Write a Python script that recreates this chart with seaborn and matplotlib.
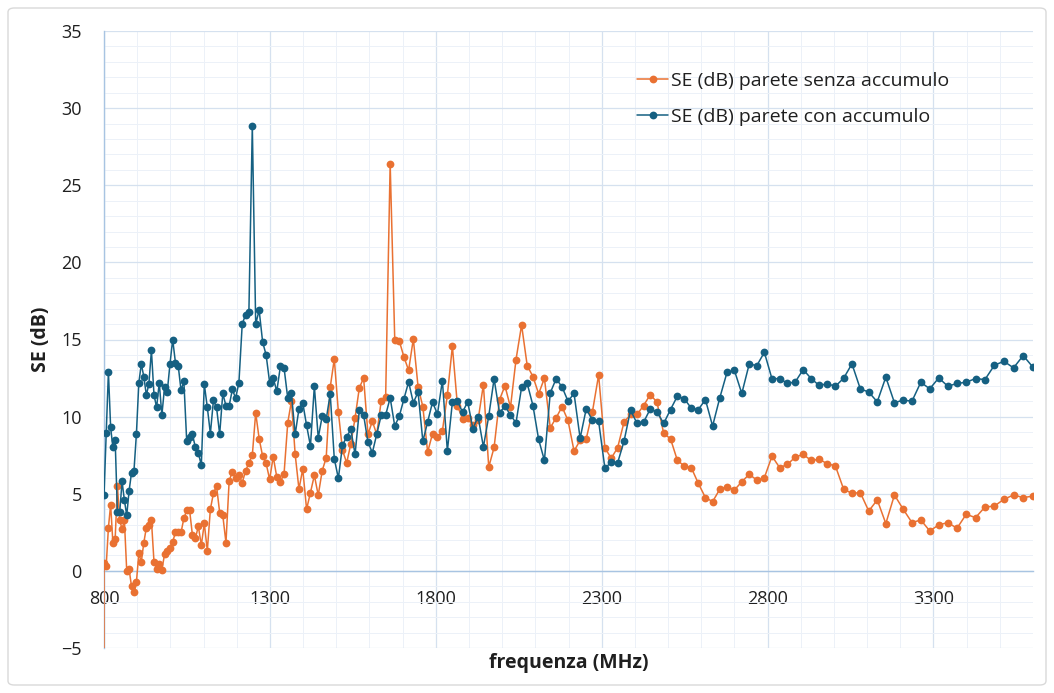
import numpy as np
import pandas as pd
import matplotlib
matplotlib.use("Agg")
import matplotlib.pyplot as plt
import seaborn as sns
from matplotlib.ticker import MultipleLocator, FixedLocator
from matplotlib.patches import FancyBboxPatch

# ---------------- data ----------------
# measurement frequencies (MHz), logarithmic sweep 800 -> 3600 MHz
freq = [800.0, 806.6, 813.3, 820.0, 826.7, 833.6, 840.4, 847.4, 854.4, 861.4, 868.5, 875.7, 882.9, 890.2,
        897.6, 905.0, 912.4, 920.0, 927.6, 935.2, 942.9, 950.7, 958.6, 966.5, 974.4, 982.5, 990.6, 998.8,
        1007.0, 1015.3, 1023.7, 1032.2, 1040.7, 1049.3, 1057.9, 1066.6, 1075.5, 1084.3, 1093.3, 1102.3,
        1111.4, 1120.6, 1129.8, 1139.2, 1148.6, 1158.0, 1167.6, 1177.2, 1186.9, 1196.7, 1206.6, 1216.6,
        1226.6, 1236.7, 1247.0, 1257.2, 1267.6, 1278.1, 1288.6, 1299.3, 1310.0, 1320.8, 1331.7, 1342.7,
        1353.8, 1364.9, 1376.2, 1387.6, 1399.0, 1410.6, 1422.2, 1434.0, 1445.7, 1457.7, 1469.7, 1481.8,
        1494.1, 1506.4, 1518.8, 1531.4, 1544.0, 1556.7, 1569.6, 1582.5, 1595.6, 1608.8, 1622.0, 1635.4,
        1648.9, 1662.5, 1676.3, 1690.1, 1704.0, 1718.1, 1732.3, 1746.6, 1761.0, 1775.5, 1790.2, 1805.0,
        1819.9, 1834.9, 1850.0, 1865.3, 1880.7, 1896.2, 1911.8, 1927.6, 1943.5, 1959.6, 1975.7, 1992.1,
        2008.5, 2025.1, 2041.8, 2058.6, 2075.6, 2092.8, 2110.0, 2127.4, 2145.0, 2162.7, 2180.5, 2198.5,
        2216.7, 2235.0, 2253.4, 2272.0, 2290.8, 2309.7, 2328.7, 2348.0, 2367.3, 2386.9, 2406.6, 2426.4,
        2446.5, 2466.6, 2487.0, 2507.5, 2528.2, 2549.1, 2570.1, 2591.3, 2612.7, 2634.3, 2656.0, 2677.9,
        2700.0, 2722.3, 2744.8, 2767.4, 2790.3, 2813.3, 2836.5, 2859.9, 2883.5, 2907.3, 2931.3, 2955.5,
        2979.9, 3004.5, 3029.3, 3054.3, 3079.5, 3104.9, 3130.6, 3156.4, 3182.4, 3208.7, 3235.2, 3261.9,
        3288.8, 3315.9, 3343.3, 3370.9, 3398.7, 3426.8, 3455.1, 3483.6, 3512.3, 3541.3, 3570.5, 3600.0]

senza = [0.54, 0.32, 2.8, 4.3, 1.83, 2.05, 5.5, 3.3, 2.7, 3.3, 0.0, 0.1, -1.0, -1.4, -0.75, 1.14, 0.58, 1.83, 2.8, 3.0,
         3.3, 0.58, 0.15, 0.43, 0.06, 1.08, 1.3, 1.5, 1.88, 2.5, 2.52, 2.5, 3.4, 3.93, 3.95, 2.3, 2.1, 2.9, 1.66,
         3.08, 1.3, 4.0, 5.03, 5.5, 3.78, 3.6, 1.83, 5.83, 6.43, 6.04, 6.24, 5.72, 6.47, 7.0, 7.49, 10.25, 8.57, 7.44, 6.97,
         5.93, 7.4, 6.08, 5.76, 6.3, 9.6, 11.0, 7.55, 5.3,
         6.6, 4.0, 5.07, 6.2, 4.9, 6.5, 7.33, 11.9, 13.74, 10.3, 7.83, 7.0, 8.24, 9.92, 11.87, 12.5, 8.85, 9.7, 8.85, 11.0,
         11.3, 26.4, 15.0, 14.9,
         13.87, 13.0, 15.04, 11.93, 10.64, 7.7, 8.9, 8.65, 9.06, 11.4, 14.56, 10.7, 9.86, 9.9, 9.43, 9.8, 12.08, 6.73, 8.0, 11.1,
         12.0, 10.6, 13.7, 15.94, 13.3, 12.6, 11.48, 12.49, 9.28, 9.92, 10.64, 9.75, 7.77, 8.46, 8.56, 10.3, 12.7,
         7.98, 7.3, 7.98, 9.64, 10.14, 10.14, 10.72, 11.43, 10.94, 8.91, 8.56, 7.16, 6.8, 6.69, 5.67,
         4.75, 4.49, 5.29, 5.46, 5.24, 5.78, 6.26, 5.89, 6.04, 7.44, 6.69, 6.9, 7.38,
         7.55, 7.16, 7.23, 6.95, 6.8, 5.29, 5.03, 5.07, 3.88, 4.6, 3.07, 4.92,
         4.0, 3.13, 3.3, 2.59, 2.98, 3.13, 2.76, 3.67, 3.45, 4.14, 4.2, 4.64, 4.92, 4.75, 4.85]

con = [4.9, 8.95, 12.9, 9.3, 8.0, 8.5, 3.8, 3.8, 5.8, 4.6, 3.6, 5.2, 6.36, 6.45, 8.85, 12.2, 13.4, 12.6, 11.4, 12.1,
       14.3, 11.4, 10.6, 12.2, 10.1, 11.9, 11.6, 13.4, 15.0, 13.5, 13.3, 11.7, 12.3, 8.4, 8.7, 8.85, 8.0, 7.66, 6.84,
       12.1, 10.6, 8.9, 11.05, 10.6, 8.85, 11.5, 10.7, 10.7, 11.76, 11.2, 12.2, 16.0, 16.6, 16.76, 28.85, 16.0, 16.9, 14.84, 14.0,
       12.2, 12.5, 11.65, 13.27, 13.16, 11.2, 11.5, 8.85, 10.5,
       10.9, 9.43, 8.1, 11.97, 8.63, 10.03, 9.82, 11.48, 7.27, 6.0, 8.13, 8.7, 9.17, 7.55, 10.42, 10.1, 8.35, 7.66, 8.85, 10.08,
       10.1, 11.22, 9.39, 10.03,
       11.15, 12.25, 10.9, 11.59, 8.4, 9.67, 10.94, 10.16, 12.34, 7.77, 10.94, 11.0, 10.29, 10.96, 9.21, 10.0, 8.03, 10.03, 12.45, 10.25,
       10.68, 10.1, 9.6, 11.9, 12.15, 10.72, 8.52, 7.16, 11.54, 12.45, 11.93, 11.0, 11.5, 8.6, 10.5, 9.77, 9.7,
       6.65, 7.05, 7.0, 8.4, 10.42, 9.56, 9.64, 10.5, 10.3, 9.56, 10.46, 11.33, 11.15, 10.55, 10.46,
       11.1, 9.39, 11.22, 12.88, 13.0, 11.5, 13.42, 13.3, 14.17, 12.45, 12.47, 12.15, 12.25,
       13.05, 12.47, 12.02, 12.13, 11.97, 12.49, 13.42, 11.8, 11.59, 10.96, 12.56, 10.9,
       11.07, 11.0, 12.23, 11.8, 12.51, 11.97, 12.15, 12.23, 12.47, 12.4, 13.33, 13.59, 13.16, 13.96, 13.2]

# first reading of the "senza" series lies below the axis minimum
senza_first_freq = 800.0
senza_first_value = -6.0

label_senza = "SE (dB) parete senza accumulo"
label_con = "SE (dB) parete con accumulo"
x_ticks = [800, 1300, 1800, 2300, 2800, 3300]
y_ticks = [-5, 0, 5, 10, 15, 20, 25, 30, 35]

assert len(freq) == len(senza) == len(con), (len(freq), len(senza), len(con))

df = pd.concat([
    pd.DataFrame({"freq": [senza_first_freq] + freq, "SE": [senza_first_value] + senza, "serie": label_senza}),
    pd.DataFrame({"freq": freq, "SE": con, "serie": label_con}),
], ignore_index=True)

# ---------------- style ----------------
sns.set_theme(style="white")
plt.rcParams["font.family"] = ["Open Sans", "DejaVu Sans"]

orange = "#E97132"
blue = "#156082"
grid_major = "#D5E1EF"
grid_minor = "#ECF1F8"
axis_col = "#A8C4E2"
text_col = "#1F1F1F"

fig = plt.figure(figsize=(10.54, 6.93), dpi=100)
W, H = 1054, 693
ax = fig.add_axes([104 / W, 1 - 648 / H, (1033 - 104) / W, (648 - 31) / H])

sns.lineplot(data=df, x="freq", y="SE", hue="serie", hue_order=[label_senza, label_con],
             palette=[orange, blue], marker="o", markersize=5.6, markeredgewidth=0,
             linewidth=1.1, sort=False, estimator=None, ax=ax)

ax.set_xlim(800, 3600)
ax.set_ylim(-5, 35)
ax.xaxis.set_major_locator(FixedLocator(x_ticks))
ax.xaxis.set_minor_locator(MultipleLocator(100))
ax.yaxis.set_major_locator(FixedLocator(y_ticks))
ax.yaxis.set_minor_locator(MultipleLocator(1))
ax.grid(which="major", color=grid_major, linewidth=0.9)
ax.grid(which="minor", color=grid_minor, linewidth=0.7)
ax.set_axisbelow(True)

for s in ["top", "right"]:
    ax.spines[s].set_visible(False)
for s in ["left", "bottom"]:
    ax.spines[s].set_color(axis_col)
    ax.spines[s].set_zorder(1.5)
    ax.spines[s].set_linewidth(1.0)
ax.spines["bottom"].set_position(("data", 0))

ax.tick_params(axis="both", which="both", length=0, labelsize=13, colors=text_col)
ax.tick_params(axis="y", pad=16)
ax.tick_params(axis="x", pad=14)

ax.set_xlabel("frequenza (MHz)", fontsize=14, fontweight="bold", color=text_col, va="center")
ax.xaxis.set_label_coords(0.5, -15 / 617)
ax.set_ylabel("SE (dB)", fontsize=14, fontweight="bold", color=text_col, va="center")
ax.yaxis.set_label_coords(-63 / 929, 0.5)

handles, labels = ax.get_legend_handles_labels()
ax.legend(handles, labels, loc="upper left", bbox_to_anchor=(637 / W, 1 - 72 / H),
          bbox_transform=fig.transFigure, frameon=False, fontsize=14, borderpad=0,
          borderaxespad=0, handlelength=1.6, handletextpad=0.15, labelspacing=0.9,
          labelcolor=text_col)

fig.patches.append(FancyBboxPatch((8 / W, 8 / H), (1046 - 8) / W, (685 - 8) / H,
                                  boxstyle="round,pad=0,rounding_size=0.006",
                                  transform=fig.transFigure, facecolor="none",
                                  edgecolor="#D9D9D9", linewidth=1.0, zorder=-1))

fig.savefig("out.png", dpi=100)
